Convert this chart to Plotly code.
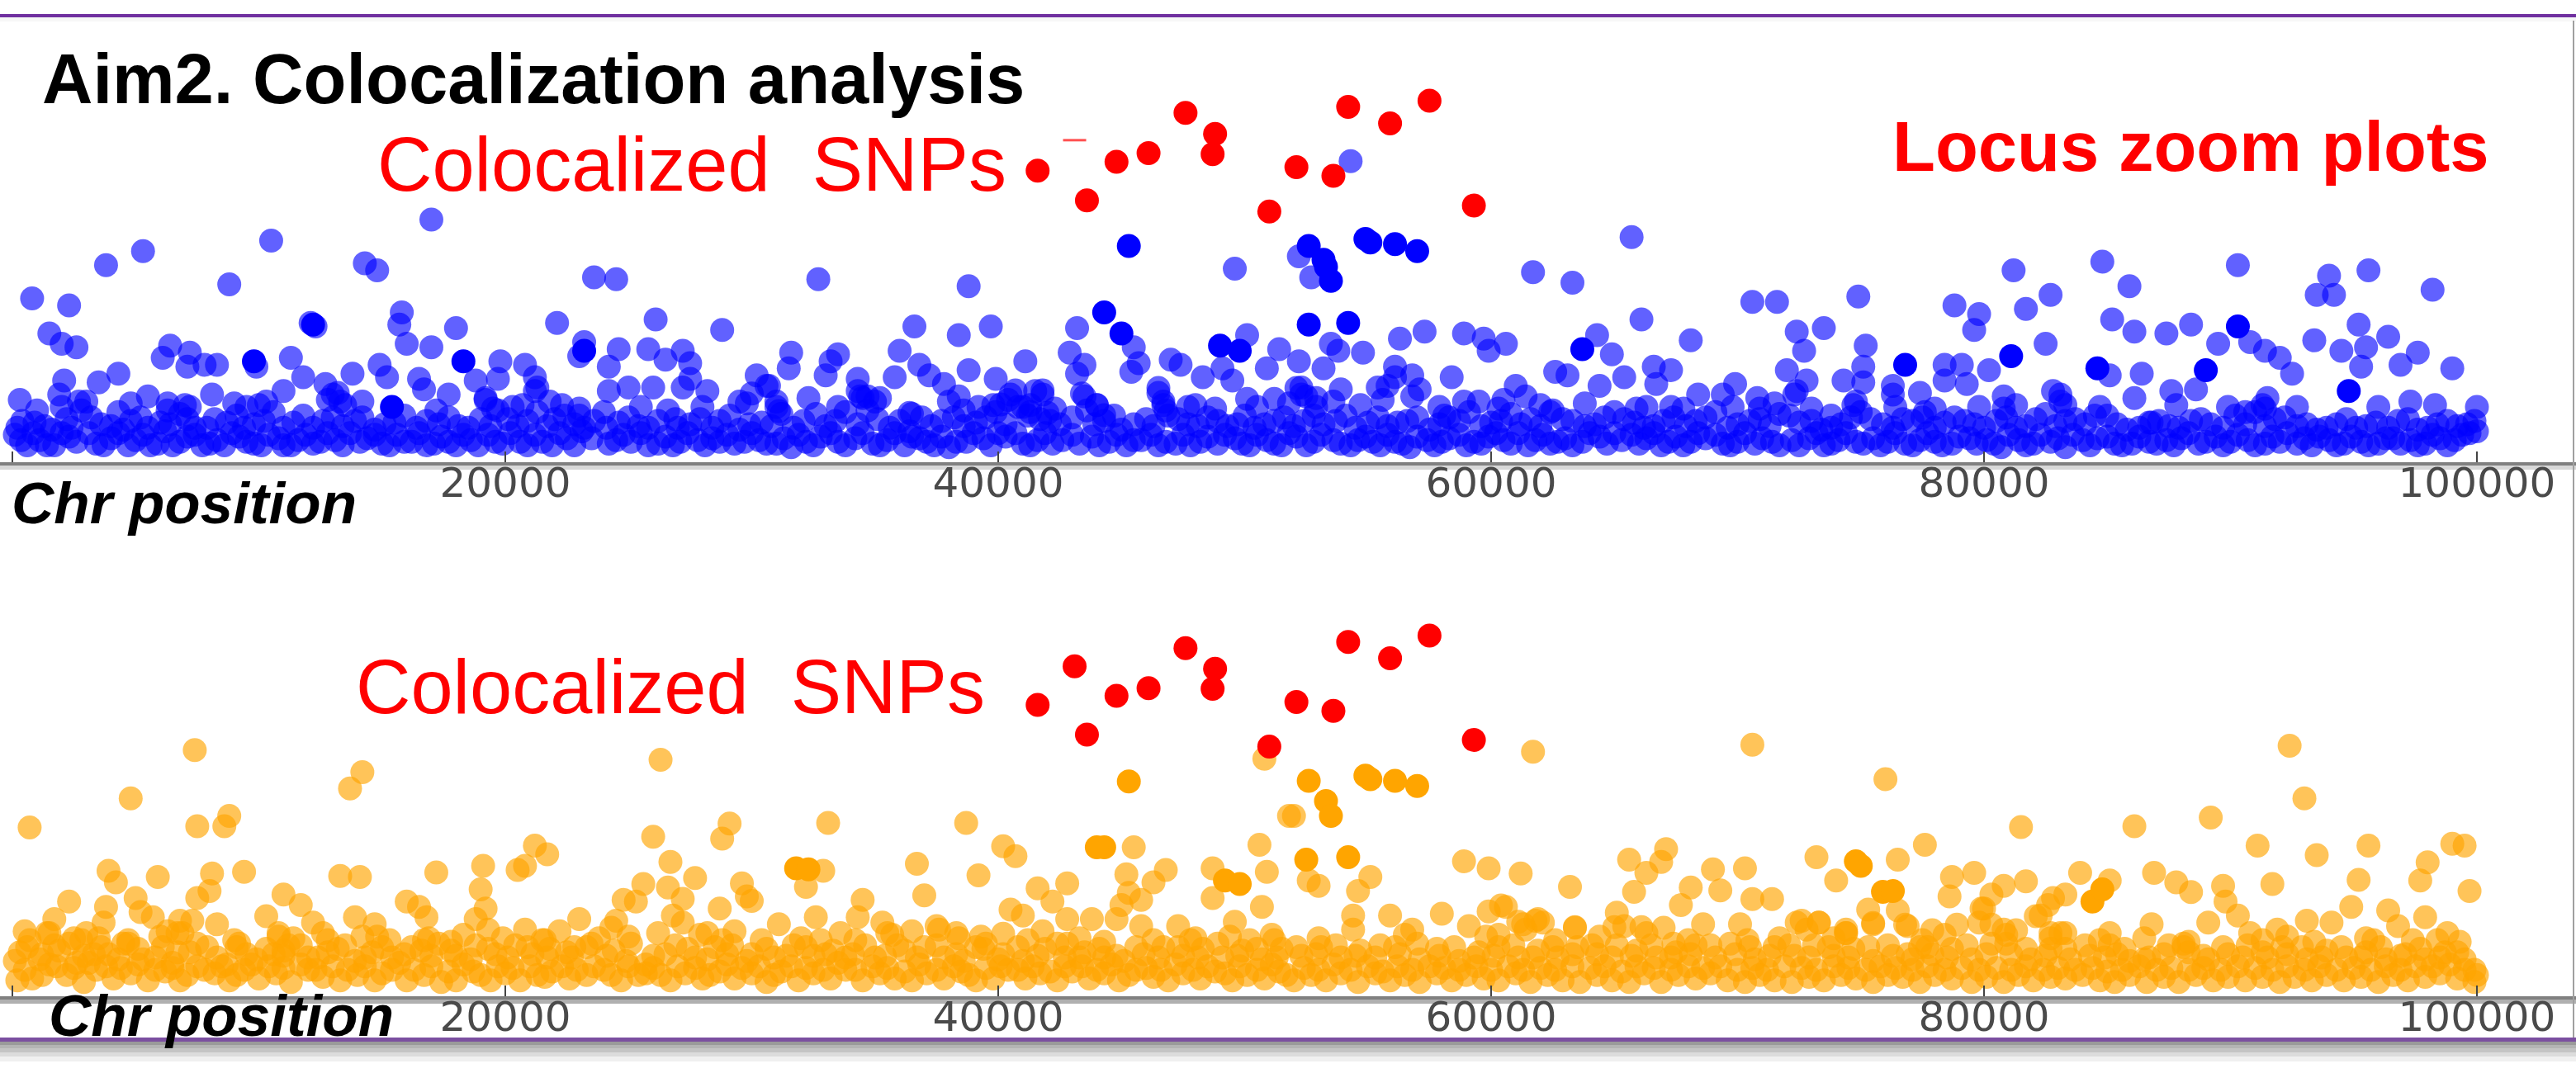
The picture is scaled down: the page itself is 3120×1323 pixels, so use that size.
import plotly.graph_objects as go

W, H = 3120, 1323

tick_vals = [0, 20000, 40000, 60000, 80000, 100000]
tick_text = ["0", "20000", "40000", "60000", "80000", "100000"]

# (chr position, association score)
red_top = [(41600,8.45),(43600,7.6),(44800,8.7),(46100,8.95),(47600,10.1),(48800,9.5),(48700,8.92),(51000,7.28),
           (52100,8.55),(53600,8.3),(54200,10.27),(55900,9.8),(57500,10.45),(59300,7.45)]
red_stub = [(43100,9.32)]
red_bottom = [(41600,8.42),(43100,9.52),(43600,7.57),(44800,8.68),(46100,8.9),(47600,10.04),(48800,9.45),(48700,8.88),
              (51000,7.23),(52100,8.5),(53600,8.25),(54200,10.22),(55900,9.75),(57500,10.4),(59300,7.42)]

blue_dark = [(44300,4.4),(45300,6.3),(45000,3.8),(49000,3.45),(49800,3.3),(52600,6.3),(54900,6.5),(55100,6.4),(56100,6.35),
             (57000,6.15),(53300,5.7),(53200,5.9),(53500,5.3),(52600,4.05),(54200,4.1),(90300,4.0),(94800,2.15),(76800,2.9),
             (18300,3.0),(12200,4.05),(63700,3.35),(9800,3.0),(81100,3.15),(89000,2.75),(84600,2.8),(15400,1.7),(23200,3.3)]

blue_upper = [(300,1.9),(800,4.8),(2300,4.6),(1500,3.8),(2000,3.5),(2600,3.4),(3800,5.75),(5300,6.15),(8800,5.2),(10500,6.45),
    (14300,5.8),(14800,5.6),(17000,7.05),(12100,4.1),(12300,4.0),(15800,4.4),(15700,4.05),(16000,3.5),(17000,3.4),(18000,3.95),
    (6400,3.45),(6100,3.1),(7200,3.25),(7100,2.85),(8300,2.9),(7800,2.9),(9900,2.85),(11300,3.1),(4300,2.65),(3500,2.4),
    (2100,2.45),(1900,2.05),(5500,2.0),(4800,1.8),(8100,2.05),(11000,2.15),(11800,2.55),(13200,2.1),(13800,2.65),(14900,2.9),
    (15200,2.55),(16500,2.5),(16700,2.2),(17700,2.05),(19800,3.0),(20800,2.9),(18800,2.45),(19700,2.5),(21200,2.55),(21300,2.25),
    (22100,4.1),(23200,3.55),(23000,3.15),(24600,3.35),(25800,3.35),(27200,3.3),(26500,3.05),(27500,2.95),(24200,2.85),(23600,5.4),
    (24500,5.35),(26100,4.2),(28800,3.9),(32700,5.35),(38800,5.15),(36600,4.0),(38400,3.75),(39700,4.0),(43200,3.95),(49600,5.65),
    (45500,3.4),(42900,3.25),(31600,3.25),(31500,2.8),(30200,2.6),(30700,2.3),(33500,3.2),(33200,3.0),(33000,2.6),(36000,3.3),
    (36800,2.9),(37200,2.6),(35800,2.55),(38800,2.75),(41100,3.0),(39900,2.5),(43500,2.9),(43200,2.65),(43500,2.0),(45700,2.95),
    (45400,2.7),(47000,3.05),(47400,2.9),(50100,3.75),(51400,3.35),(50900,2.8),(49100,2.8),(49500,2.45),(48300,2.55),(34300,2.5),
    (34500,1.95),(32300,1.95),(27500,2.5),(27200,2.25),(24200,2.15),(25000,2.25),(26000,2.25),(28200,2.15),(25500,1.7),(37800,2.35),
    (36500,1.5),(41500,2.15),(46500,2.1),(54300,8.72),(52200,6.0),(52700,5.4),(61700,5.55),(63300,5.25),(65700,6.55),(66100,4.2),
    (68100,3.6),(70600,4.7),(71600,4.7),(74900,4.85),(72400,3.85),(73500,3.95),(72700,3.3),(75200,3.45),(78800,4.6),(79800,4.35),
    (79600,3.9),(81200,5.6),(81700,4.5),(82700,4.9),(82500,3.5),(84800,5.85),(85900,5.15),(85200,4.2),(86100,3.85),(87400,3.8),
    (88400,4.05),(90300,5.75),(89500,3.5),(90800,3.55),(91400,3.3),(92000,3.1),(92500,2.65),(93400,3.6),(94000,5.45),(93500,4.9),
    (94200,4.9),(95600,5.6),(98200,5.05),(95200,4.05),(96400,3.7),(94500,3.3),(95500,3.4),(95300,2.85),(97600,3.25),(96900,2.9),
    (99000,2.8),(100000,1.7),(98300,1.75),(97300,1.85),(96000,1.7),(92700,1.7),(91500,1.95),(56300,3.65),(57300,3.85),(58900,3.8),
    (59700,3.65),(60600,3.5),(59900,3.3),(53500,3.5),(53800,3.3),(54800,3.25),(52200,3.0),(53200,2.8),(56100,2.85),(56800,2.6),
    (58400,2.55),(55800,2.3),(57100,2.2),(53900,2.2),(52300,2.25),(52900,1.7),(54700,1.75),(64300,3.75),(64900,3.2),(62600,2.7),
    (63100,2.6),(61000,2.3),(61400,2.0),(65400,2.55),(64400,2.3),(66600,2.85),(67300,2.75),(66700,2.35),(69900,2.35),(68400,2.05),
    (69400,2.05),(72000,2.75),(72800,2.45),(72400,2.15),(74300,2.45),(75100,2.85),(75100,2.4),(76300,2.05),(77400,2.1),(78400,2.9),
    (79100,2.9),(78400,2.45),(79300,2.35),(80200,2.75),(80800,2.0),(82800,2.15),(85100,2.6),(86400,2.65),(86100,1.95),(87600,2.15),
    (88600,2.2),(70800,1.95)]

blue_mid = [(2700,1.85),(2000,1.7),(7200,1.7),(6300,1.6),(9500,1.7),(10300,1.85),(12700,2.35),(13000,2.05),(13300,1.85),(14200,1.85),(19200,1.9),
    (19500,1.65),(21200,2.15),(20700,1.75),(22300,1.75),(23000,1.45),(29500,1.85),(31000,1.7),(34300,2.15),(35200,1.95),(39800,1.75),(40500,2.05),
    (41800,2.05),(41300,1.55),(44000,1.75),(46700,1.85),(52300,2.05),(52900,1.95),(55400,2.25),(56800,2.0),(56100,2.55),(58900,1.85),(58100,1.45),
    (60300,1.65),(62400,1.55),(65900,1.65),(67300,1.7),(70900,1.65),(72300,2.05),(73800,1.45),(74800,1.85),(76300,2.3),(77600,1.55),(80800,1.65),
    (83100,2.05),(83300,1.75),(86800,1.25),(90600,1.55),(91400,1.65),(34400,2.0),(34700,2.0),(31100,1.58),(36400,1.53),(38400,2.0),(38600,1.6),
    (40700,2.17),(41800,2.17),(40100,1.77),(41000,1.7),(42000,1.53),(43400,2.08),(44300,1.46),(46500,2.24),(46800,1.6),(47700,1.7),(48800,1.65),
    (50100,1.93),(51200,1.93),(52100,2.24),(52500,2.0),(30600,2.3),(30000,2.08)]

blue_band = [(100,.9),(600,.6),(1100,.75),(1700,.6),(2300,.85),(3400,.65),(4000,.8),(4700,.6),(5300,.9),(5900,.65),(6500,.6),(7100,.85),
    (7700,.6),(8300,.75),(8900,.95),(9500,.7),(10100,.6),(10800,.8),(11300,.6),(11900,.9),(12500,.7),(13100,.75),(13700,.95),(14400,.8),
    (15000,.65),(15600,.9),(16200,.7),(16800,.6),(17400,.85),(18000,.6),(18600,.75),(19300,.9),(19900,.65),(20600,.7),(21200,.9),(21900,.6),
    (22500,.8),(23100,1.0),(24200,.65),(24800,.9),(25800,.6),(26500,.85),(27100,.7),(27800,.75),(28400,.8),(29000,.9),(29700,.7),(30300,.75),
    (31000,.65),(31600,.55),(32200,.7),(32800,.85),(33500,.7),(34200,.8),(34900,.65),(35500,.75),(36200,.6),(36800,.8),(37400,.6),(38000,.55),
    (38700,.7),(39400,.8),(40300,.85),(41000,.65),(41600,.75),(42200,.65),(43000,.9),(43800,.85),(44500,.7),(45200,.6),(45800,.75),(46500,.6),
    (47500,.9),(48200,.7),(48900,.65),(49600,.8),(50200,.6),(50900,.75),(51500,.6),(52100,.85),(52800,.7),(53600,.75),(54300,.6),(54900,.85),
    (55500,.6),(56100,.7),(56700,.55),(57400,.75),(58000,.7),(58700,.9),(59300,.7),(59900,.85),(60500,.75),(61100,.95),(61800,.75),(62400,.65),
    (63000,.8),(63700,.7),(64400,.85),(65000,.95),(65700,.9),(66300,.8),(66900,.6),(67500,.85),(68100,.7),(68700,.8),(69400,.65),(70000,.7),
    (70700,.65),(71400,.7),(72200,.75),(72900,.8),(73500,.6),(74100,.75),(74800,.7),(75500,.8),(76100,.7),(76800,.65),(77400,.75),(78000,.7),
    (78700,.65),(79400,.8),(80100,.75),(80700,.55),(81400,.75),(82000,.65),(82700,.7),(83300,.55),(84000,.75),(84600,.8),(85300,.65),(86000,.65),
    (86700,.7),(87400,.75),(88000,.8),(88700,.65),(89400,.85),(90000,.7),(90700,.75),(91400,.65),(92000,.7),(92700,.65),(93300,.6),(94000,.75),
    (94600,.65),(95300,.7),(96000,.65),(96600,.8),(97300,.75),(97900,.65),(98500,.8),(99100,.75),(99700,.95),(100000,1.0),
    (400,1.3),(1300,1.15),(2200,1.35),(2800,1.6),(3600,1.2),(4500,1.05),(5200,1.4),(6000,1.25),(6800,1.5),(7400,1.1),(8200,1.35),(9100,1.45),
    (9800,1.2),(10600,1.55),(11400,1.25),(12200,1.1),(13000,1.4),(13900,1.3),(14700,1.05),(15500,1.25),(16400,1.1),(17300,1.2),(18100,1.15),
    (19000,1.35),(19700,1.6),(20500,1.15),(21300,1.55),(22000,1.35),(22800,1.2),(23600,1.3),(24600,1.25),(25400,1.15),(26200,1.3),(27000,1.1),
    (27900,1.35),(28700,1.3),(29500,1.05),(30400,1.25),(31200,1.5),(32100,1.3),(33000,1.15),(33800,1.55),(34700,1.6),(35600,1.1),(36400,1.0),
    (37300,1.15),(38200,1.4),(39100,1.25),(39900,1.55),(40800,1.7),(41700,1.35),(42500,1.2),(43600,1.6),(44300,1.3),(45000,1.05),(46000,1.35),
    (46900,1.45),(47700,1.2),(48500,1.4),(49300,1.15),(50000,1.45),(50800,1.2),(51600,1.4),(52400,1.3),(53200,1.2),(54100,1.45),(55000,1.25),
    (55800,1.15),(56600,1.3),(57500,1.05),(58300,1.4),(59100,1.55),(60000,1.25),(60800,1.5),(61600,1.35),(62500,1.6),(63300,1.3),(64200,1.2),
    (65000,1.55),(65800,1.25),(66600,1.15),(67400,1.4),(68300,1.3),(69100,1.55),(70000,1.2),(70900,1.35),(71700,1.5),(72500,1.25),(73400,1.05),
    (74200,1.2),(75000,1.55),(75900,1.2),(76700,1.35),(77500,1.4),(78400,1.25),(79200,1.3),(80000,1.1),(80900,1.4),(81700,1.15),(82500,1.5),
    (83300,1.3),(84100,1.2),(85000,1.45),(85800,1.05),(86700,1.25),(87500,1.15),(88400,1.3),(89200,1.2),(90200,1.45),(91000,1.55),(91800,1.35),
    (92700,1.15),(93500,1.05),(94300,1.2),(95100,1.1),(95900,1.25),(96800,1.3),(97600,1.05),(98400,1.2),(99200,1.15),(99900,1.3),
    (1000,1.6),(3000,1.85),(4300,1.55),(6300,1.8),(7000,1.75),(9000,1.8),(10000,1.75),(12800,1.9),(13500,1.75),(17200,1.6),(19200,1.95),
    (20300,1.7),(21800,1.85),(23000,1.65),(24000,1.55),(26600,1.6),(28000,1.7),(29800,1.8),(31000,1.85),(33500,1.7),(35000,1.85),(38000,1.85),
    (39200,1.7),(40400,1.9),(41300,1.75),(42300,1.65),(44000,1.75),(46700,1.75),(48000,1.75),(50500,1.7),(51800,1.8),(53600,1.85),(55600,1.9),
    (57900,1.7),(59500,1.85),(60500,1.9),(62000,1.75),(63800,1.8),(66300,1.7),(67800,1.65),(69800,1.7),(71500,1.8),(73000,1.65),(74700,1.75),
    (76400,1.7),(78000,1.65),(79800,1.7),(81300,1.75),(83100,1.85),(84700,1.7),(87800,1.75),(89900,1.7),(91300,1.75)]

blue_band_dense = [(350,.75),(850,.95),(1400,.6),(2000,.95),(2600,.7),(3100,.95),(3700,.6),(4300,.95),(5000,.75),(5600,.6),(6200,1.0),(6800,.7),
    (7400,.9),(8000,.65),(8600,.6),(9200,.85),(9800,.65),(10400,.9),(11000,.6),(11600,.75),(12200,.65),(12800,.95),(13400,.6),(14100,.7),(14700,.9),
    (15300,.6),(15900,.7),(16500,.95),(17100,.65),(17700,.7),(18300,.9),(18900,.6),(19600,.7),(20200,.95),(20900,.6),(21500,.7),(22200,.95),(22800,.6),
    (23500,.8),(24500,.75),(25100,.7),(25500,.95),(26200,.65),(26800,.6),(27400,.95),(28100,.6),(28700,.7),(29300,.65),(30000,.95),(30600,.65),(31300,.8),
    (31900,.9),(32500,.6),(33200,.95),(33800,.6),(34500,.95),(35200,.6),(35800,.95),(36500,.85),(37100,.7),(37700,.85),(38300,.7),(39000,.95),(39700,.6),
    (40000,.95),(40700,.95),(41300,.6),(41900,.95),(42600,.75),(43300,.65),(44100,.6),(44800,.9),(45500,.75),(46200,.9),(46800,.7),(47200,.65),(47800,.6),
    (48500,.85),(49200,.9),(49900,.65),(50500,.9),(51200,.65),(51800,.95),(52500,.6),(53100,.9),(53900,.65),(54600,.75),(55200,.7),(55800,.9),(56400,.65),
    (57000,.85),(57700,.6),(58300,.8),(59000,.6),(59600,.65),(60200,.95),(60800,.65),(61500,.6),(62100,.9),(62700,.7),(63300,.6),(64000,.95),(64700,.65),
    (65300,.75),(66000,.65),(66600,.95),(67200,.7),(67800,.6),(68400,.95),(69100,.9),(69700,.6),(70300,.95),(71000,.8),(71700,.6),(72500,.6),(73200,.95),
    (73800,.65),(74400,.95),(75100,.65),(75800,.6),(76400,.95),(77100,.6),(77700,.95),(78300,.6),(79000,.85),(79700,.65),(80400,.65),(81000,.9),(81700,.6),
    (82300,.9),(83000,.8),(83600,.9),(84300,.6),(85000,.85),(85600,.6),(86300,.85),(87000,.65),(87700,.6),(88300,.95),(89000,.7),(89700,.6),(90300,.9),
    (91000,.6),(91700,.85),(92300,.95),(93000,.8),(93600,.85),(94300,.6),(94900,.85),(95600,.6),(96300,.8),(96900,.65),(97600,.6),(98200,.9),(98800,.6),
    (99400,.9),
    (200,1.1),(900,1.25),(1600,1.05),(2400,1.1),(3200,1.4),(4000,1.15),(4800,1.3),(5500,1.1),(6400,1.2),(7100,1.35),(7900,1.1),(8700,1.25),(9400,1.1),
    (10200,1.3),(11000,1.1),(11800,1.45),(12600,1.3),(13400,1.15),(14200,1.4),(15100,1.2),(15900,1.45),(16800,1.3),(17700,1.4),(18500,1.1),(19400,1.15),
    (20100,1.35),(20900,1.3),(21700,1.15),(22400,1.45),(23200,1.1),(24100,1.1),(25000,1.4),(25800,1.1),(26900,1.35),(27500,1.2),(28400,1.1),(29100,1.45),
    (29900,1.2),(30800,1.15),(31700,1.1),(32600,1.5),(33400,1.3),(34300,1.2),(35100,1.35),(36000,1.3),(36900,1.4),(37700,1.3),(38600,1.15),(39500,1.4),
    (40300,1.2),(41200,1.45),(42100,1.3),(43000,1.4),(43900,1.2),(44700,1.45),(45500,1.2),(46300,1.15),(47300,1.35),(48100,1.15),(48900,1.3),(49700,1.2),
    (50400,1.1),(51200,1.3),(52000,1.15),(52800,1.45),(53700,1.3),(54500,1.1),(55400,1.4),(56200,1.25),(57000,1.4),(57900,1.2),(58700,1.3),(59600,1.15),
    (60400,1.3),(61200,1.2),(62000,1.15),(62900,1.35),(63800,1.15),(64600,1.4),(65400,1.35),(66200,1.1),(67000,1.3),(67900,1.15),(68700,1.4),(69600,1.1),
    (70500,1.3),(71300,1.15),(72100,1.45),(73000,1.3),(73800,1.1),(74600,1.4),(75400,1.35),(76300,1.1),(77100,1.3),(78000,1.1),(78800,1.4),(79600,1.2),
    (80500,1.3),(81300,1.1),(82100,1.35),(82900,1.15),(83700,1.35),(84500,1.45),(85400,1.2),(86300,1.1),(87100,1.3),(87900,1.1),(88800,1.35),(89700,1.1),
    (90600,1.2),(91400,1.15),(92200,1.4),(93100,1.2),(93900,1.1),(94700,1.35),(95500,1.15),(96400,1.1),(97200,1.35),(98000,1.1),(98800,1.3),(99600,1.2)]

orange_dark = [(44300,4.35),(44000,4.35),(45300,6.23),(49200,3.4),(49800,3.3),(31800,3.75),(32300,3.72),(52600,6.25),(54900,6.4),(55100,6.3),
               (56100,6.25),(57000,6.1),(53300,5.67),(53500,5.25),(52500,4.0),(54200,4.07),(74800,3.95),(75000,3.82),(75900,3.08),(76300,3.1),
               (84400,2.8),(84800,3.15)]

orange_upper = [(700,4.92),(4800,5.75),(7400,7.13),(7500,4.95),(8800,5.25),(8600,4.95),(13700,6.03),(14200,6.5),(26300,6.85),(26000,4.65),
    (29100,5.03),(28800,4.6),(33100,5.05),(38700,5.05),(21200,4.4),(21700,4.15),(26700,3.93),(40200,4.38),(40700,4.1),(45500,4.35),
    (50800,6.88),(50600,4.42),(51800,5.25),(3900,3.68),(4200,3.35),(5900,3.5),(8100,3.6),(9400,3.65),(2300,2.8),(3800,2.65),(5000,2.9),
    (7500,2.9),(8000,3.1),(5200,2.5),(5700,2.35),(13300,3.53),(14100,3.5),(17200,3.63),(19100,3.82),(20500,3.7),(20800,3.82),(19000,3.15),
    (11000,3.0),(11700,2.7),(10300,2.38),(12200,2.2),(13900,2.35),(16000,2.8),(16500,2.65),(16800,2.35),(19200,2.6),(18800,2.3),(23000,2.3),
    (24500,2.25),(24800,2.85),(25300,2.8),(25600,3.3),(26600,3.2),(27700,3.47),(27200,2.88),(28700,2.6),(29600,3.32),(29800,2.95),(30000,2.82),
    (26800,2.4),(31100,2.15),(32600,2.35),(32900,3.68),(32200,3.22),(36700,3.88),(39200,3.55),(37000,2.98),(34500,2.85),(34300,2.35),(41600,3.18),
    (42800,3.32),(42200,2.8),(40500,2.57),(41000,2.4),(42800,2.3),(43800,2.3),(44800,2.3),(45200,3.58),(46300,3.35),(46800,3.7),(45300,3.05),
    (45800,2.85),(45000,2.7),(48700,3.75),(50900,3.65),(48700,2.9),(49600,2.22),(50700,2.65),(47300,2.1),(45800,2.1),(41800,1.95),(40200,1.88),
    (37600,2.0),(35300,2.2),(29300,1.95),(22200,1.95),(20800,2.0),(14700,2.15),(8300,2.15),(6800,2.25),(1700,2.3),(500,1.95),(3700,2.2),(3000,1.9),
    (6300,1.95),(10800,1.9),(61700,7.08),(70600,7.28),(92400,7.25),(76000,6.3),(93000,5.75),(81500,4.93),(86100,4.95),(89200,5.2),(77600,4.42),
    (91100,4.4),(93500,4.13),(95600,4.4),(99000,4.45),(99500,4.4),(98000,3.92),(95200,3.42),(97700,3.4),(99700,3.1),(91700,3.3),(89700,3.25),
    (86900,3.62),(87800,3.35),(88400,3.07),(83900,3.62),(85100,3.4),(83300,3.0),(82600,2.7),(82300,2.4),(79600,3.62),(78700,3.5),(78600,2.95),
    (81700,3.38),(80800,3.25),(80300,3.0),(79900,2.6),(67100,4.3),(66900,3.93),(66300,3.62),(65600,4.0),(65800,3.08),(68100,3.2),(69300,3.12),
    (69000,3.72),(70300,3.75),(70600,2.87),(71400,2.87),(67700,2.7),(73200,4.07),(74000,3.4),(76500,4.0),(75300,2.57),(76500,2.55),(75500,2.15),
    (76900,2.1),(58900,3.95),(59900,3.75),(61200,3.6),(63200,3.22),(52000,5.25),(55100,3.5),(54600,3.1),(52600,3.4),(53000,3.25),(60600,2.65),
    (59900,2.52),(58000,2.45),(55900,2.4),(54400,2.4),(59100,2.1),(65100,2.48),(61800,2.25),(61300,2.15),(63400,2.05),(68600,2.15),(70100,2.15),
    (72600,2.25),(73300,2.2),(67000,2.05),(86800,2.15),(89100,2.2),(85100,1.9),(91900,2.0),(93100,2.25),(94900,2.65),(94100,2.2),(96400,2.55),
    (97900,2.35),(89800,2.8),(90300,2.4),(90800,1.9),(96800,2.1),(99300,1.65),(98800,1.9),(83300,1.9),(79800,2.2),(78400,1.85),(74400,1.9),
    (99900,.85),(99900,.5)]

orange_mid = [(60400,2.69),(61100,2.22),(61900,2.3),(63400,2.07),(65000,2.07),(66100,2.07),(72400,2.2),(73300,2.2),(74400,1.9),(75500,2.19),(76800,2.14),
    (77900,1.98),(78900,2.14),(80000,2.6),(80300,2.14),(81300,1.98),(82100,2.38),(82800,2.9),(82700,1.9),(1500,1.9),(2800,1.7),(4700,1.6),(6700,1.9),
    (7300,2.25),(9200,1.6),(10800,1.8),(11000,1.4),(12800,1.7),(14800,1.8),(16700,1.7),(17800,1.65),(19300,2.0),(21500,1.7),(22800,1.5),(24300,2.05),
    (27200,2.2),(28200,1.9),(28800,1.7),(32800,1.7),(34200,1.7),(35500,1.9),(37500,2.1),(38300,1.9),(39500,1.6),(42800,1.6),(47800,1.7),(50200,1.7),
    (51200,1.7),(54400,2.0),(56800,2.0),(59800,1.8),(61400,2.0),(62100,2.2),(65400,2.1),(67400,1.6),(70400,1.7),(72800,2.0),(74400,2.0),(77400,1.5),
    (80800,2.0),(83100,1.9),(85400,1.3),(88100,1.6),(92300,1.8),(95800,1.7),(98400,1.7)]

orange_band = [(200,.55),(800,.6),(1500,1.0),(2200,.7),(2900,.5),(3400,.85),(4100,.6),(4800,.75),(5500,.55),(6200,.8),(6800,.55),(7500,.95),(8200,.75),
    (8800,.55),(9400,.85),(10000,.6),(10700,.75),(11300,.5),(12000,.85),(12600,.65),(13300,.55),(14000,.7),(14700,.55),(15400,.85),(16000,.55),
    (16700,.7),(17400,.5),(18000,.55),(18700,.8),(19400,.55),(20000,.75),(20600,.55),(21300,.7),(21900,.8),(22600,.6),(23300,.7),(24000,.85),
    (24700,.55),(25400,.7),(26000,.9),(26700,.55),(27300,.75),(28000,.6),(28700,.8),(29300,.6),(30000,.75),(30600,.5),(31200,.8),(31900,.55),
    (32500,.75),(33200,.6),(33800,.85),(34500,.55),(35200,.75),(35800,.6),(36500,.55),(37100,.75),(37800,.6),(38500,.8),(39100,.55),(39800,.6),
    (40400,.85),(41100,.6),(41700,.75),(42400,.55),(43000,.8),(43700,.6),(44300,.75),(44900,.55),(45600,.85),(46300,.65),(46900,.55),(47500,.75),
    (48200,.6),(48800,.8),(49500,.55),(50100,.7),(50800,.6),(51400,.8),(52000,.55),(52700,.7),(53300,.55),(53900,.75),(54600,.5),(55300,.75),(55900,.55),
    (56500,.7),(57100,.5),(57800,.75),(58400,.55),(59000,.7),(59700,.6),(60300,.55),(61000,.75),(61600,.5),(62300,.7),(62900,.55),(63600,.5),(64300,.7),
    (64900,.55),(65600,.5),(66200,.75),(66900,.5),(67600,.7),(68300,.6),(68900,.75),(69600,.55),(70300,.5),(70900,.7),(71500,.55),(72200,.5),(72900,.65),
    (73500,.55),(74200,.7),(74800,.6),(75500,.5),(76100,.7),(76700,.65),(77400,.5),(78000,.7),(78700,.6),(79500,.5),(80100,.65),(80800,.5),(81400,.7),
    (82000,.55),(82700,.65),(83300,.6),(84000,.7),(84700,.55),(85300,.5),(85900,.7),(86600,.5),(87300,.65),(87900,.5),(88600,.7),(89300,.55),(89900,.65),
    (90600,.55),(91300,.65),(92000,.5),(92600,.65),(93300,.55),(93900,.7),(94600,.55),(95300,.65),(96000,.5),(96600,.7),(97200,.55),(97900,.65),(98500,.75),
    (99200,.6),(100000,.7),
    (300,1.35),(1100,1.15),(1900,1.4),(2600,1.05),(3300,1.3),(4300,1.15),(5100,1.45),(5800,1.2),(6500,1.05),(7200,1.35),(7900,1.5),(8700,1.0),(9500,1.3),
    (10300,1.45),(11000,1.25),(11700,1.55),(12400,1.2),(13200,1.45),(13900,1.1),(14600,1.35),(15400,1.2),(16200,1.5),(17000,1.25),(17800,1.4),(18600,1.15),
    (19300,1.45),(20100,1.2),(20900,1.5),(21700,1.2),(22500,1.35),(23300,1.5),(24100,1.25),(24900,1.1),(25700,1.0),(26500,1.3),(27400,1.45),(28200,1.15),
    (29000,1.3),(29800,1.1),(30600,1.45),(31400,1.25),(32200,1.5),(33000,1.3),(33800,1.2),(34600,1.55),(35400,1.25),(36200,1.4),(37000,1.5),(37800,1.2),
    (38600,1.1),(39400,1.45),(40200,1.3),(41000,1.1),(41900,1.45),(42700,1.2),(43500,1.35),(44300,1.2),(45100,1.1),(45900,1.3),(46700,1.5),(47500,1.25),
    (48300,1.45),(49100,1.2),(49900,1.4),(50700,1.15),(51500,1.45),(52300,1.25),(53100,1.5),(53900,1.2),(54700,1.4),(55500,1.55),(56300,1.3),(57100,1.15),
    (57900,1.25),(58700,1.1),(59500,1.35),(60300,1.5),(61100,1.2),(61900,1.4),(62700,1.2),(63500,1.5),(64300,1.3),(65100,1.55),(65900,1.4),(66700,1.2),
    (67500,1.35),(68300,1.55),(69100,1.2),(69900,1.3),(70700,1.15),(71500,1.5),(72300,1.25),(73100,1.55),(73900,1.25),(74700,1.45),(75500,1.1),(76300,1.25),
    (77100,1.15),(77900,1.3),(78700,1.45),(79500,1.15),(80300,1.6),(81100,1.3),(81900,1.15),(82700,1.45),(83500,1.15),(84300,1.25),(85100,1.55),(85900,1.1),
    (86700,1.2),(87500,1.55),(88300,1.35),(89100,1.15),(89900,1.3),(90700,1.55),(91500,1.2),(92300,1.3),(93100,1.15),(93900,1.4),(94700,1.2),(95500,1.35),
    (96300,1.15),(97100,1.3),(97900,1.15),(98700,1.35),(99500,1.15),
    (700,1.7),(1400,1.9),(2500,1.75),(3500,1.75),(4700,1.7),(6000,1.8),(6900,1.9),(9000,1.7),(11400,1.75),(12600,1.9),(14200,1.8),(15300,1.7),(16900,1.75),
    (18300,1.85),(19900,1.75),(21600,1.7),(23800,1.75),(25000,1.8),(26200,1.9),(27900,1.85),(30400,1.7),(32000,1.75),(33600,1.9),(35700,1.85),(36500,1.95),
    (38400,1.75),(39300,1.8),(41200,1.7),(43300,1.75),(44300,1.65),(46300,1.7),(48000,1.75),(49400,1.8),(51100,1.85),(53000,1.75),(56500,1.85),(60300,1.85),
    (62600,1.7),(64400,1.8),(66300,1.9),(68000,1.7),(71700,1.75),(73900,1.75),(77500,1.7),(80900,1.85),(82700,1.75),(84700,1.7),(86500,1.75),(88300,1.65),
    (91300,1.7),(93400,1.65),(95500,1.75),(97400,1.7)]

orange_band_dense = [(500,.85),(1200,.7),(1800,.95),(2500,.9),(3100,1.05),(3800,.95),(4400,.9),(5100,1.0),(5800,.85),(6500,.9),(7100,.7),(7800,.85),(8500,.95),
    (9100,.7),(9700,1.0),(10400,.95),(11000,.9),(11700,1.0),(12300,.85),(13000,.95),(13600,.85),(14300,.95),(15000,.75),(15700,1.05),(16300,.85),(17000,.95),
    (17700,.8),(18300,1.0),(19000,.7),(19700,.95),(20300,.9),(21000,.95),(21600,.65),(22300,.95),(22900,.85),(23600,.95),(24300,.7),(25000,.95),(25700,.75),
    (26300,.7),(27000,.95),(27700,.9),(28300,.7),(29000,1.0),(29600,.9),(30300,.95),(30900,.7),(31600,.95),(32200,.9),(32900,.85),(33500,1.05),(34200,.85),
    (34900,.95),(35500,.9),(36200,.8),(36800,1.0),(37500,.85),(38200,.95),(38800,.7),(39500,.9),(40100,.95),(40800,.85),(41400,.95),(42100,.8),(42700,.95),
    (43400,.95),(44000,.85),(44600,1.0),(45300,.7),(46000,.9),(46600,.85),(47200,1.0),(47900,.85),(48500,.95),(49200,.75),(49800,.95),(50500,.85),(51100,1.0),
    (51700,.7),(52400,.9),(53000,.85),(53600,1.0),(54300,.85),(55000,.95),(55600,.8),(56200,.95),(56800,.85),(57500,.95),(58100,.9),(58700,.85),(59400,.95),
    (60000,.85),(60700,.95),(61300,.85),(62000,.9),(62600,.85),(63300,.95),(64000,.9),(64600,.95),(65300,.8),(65900,.95),(66600,.9),(67300,.85),(68000,.95),
    (68600,.9),(69300,.95),(70000,.85),(70600,.9),(71200,.85),(71900,.95),(72600,.9),(73200,.85),(73900,.95),(74500,.9),(75200,.85),(75800,.95),(76400,.9),
    (77100,.85),(77700,.95),(78400,.85),(79100,.9),(79800,.85),(80500,.9),(81100,.85),(81700,.95),(82400,.85),(83000,.9),(83700,.85),(84400,.9),(85000,.8),
    (85600,.85),(86300,.95),(87000,.85),(87600,.9),(88300,.85),(88900,.9),(89600,.85),(90300,.95),(91000,.9),(91700,.85),(92300,.95),(93000,.85),(93600,.95),
    (94300,.85),(95000,.9),(95700,.85),(96300,.95),(96900,.85),(97500,.95),(98200,.95),(98900,1.0),(99500,.85),
    (100,1.1),(600,1.5),(1200,1.3),(1700,1.55),(2300,1.6),(2900,1.25),(3600,1.5),(3900,1.3),(4500,1.6),(5300,1.15),(6100,1.5),(6700,1.35),(7500,1.6),(8300,1.2),
    (9100,1.5),(9900,1.15),(10600,1.3),(11200,1.55),(12000,1.2),(12800,1.35),(13500,1.55),(14300,1.2),(15000,1.5),(15900,1.3),(16600,1.4),(17300,1.6),(18000,1.25),
    (18800,1.55),(19600,1.3),(20400,1.55),(21100,1.3),(21800,1.45),(22700,1.2),(23500,1.6),(24400,1.4),(25100,1.6),(26000,1.25),(26900,1.55),(27700,1.2),(28500,1.5),
    (29200,1.55),(30000,1.3),(30900,1.2),(31700,1.55),(32500,1.25),(33300,1.4),(34100,1.3),(35000,1.2),(35900,1.55),(36700,1.2),(37500,1.55),(38300,1.3),(39100,1.5),
    (40000,1.15),(40800,1.5),(41600,1.25),(42400,1.6),(43300,1.2),(44100,1.45),(44800,1.25),(45600,1.5),(46500,1.2),(47300,1.5),(48100,1.2),(48900,1.6),(49700,1.25),
    (50500,1.45),(51300,1.2),(52100,1.5),(52900,1.3),(53700,1.55),(54500,1.25),(55300,1.2),(56100,1.5),(57000,1.6),(57800,1.45),(58500,1.5),(59300,1.2),(60100,1.25),
    (60900,1.55),(61700,1.2),(62500,1.5),(63300,1.3),(64100,1.55),(64900,1.2),(65700,1.25),(66500,1.55),(67300,1.2),(68100,1.3),(68900,1.55),(69700,1.6),(70500,1.5),
    (71300,1.25),(72100,1.55),(72900,1.2),(73700,1.5),(74500,1.2),(75300,1.5),(76100,1.55),(76900,1.3),(77700,1.5),(78500,1.2),(79300,1.55),(80100,1.3),(80900,1.6),
    (81700,1.45),(82500,1.25),(83300,1.45),(84100,1.55),(84900,1.2),(85700,1.45),(86500,1.15),(87300,1.3),(88100,1.5),(88900,1.25),(89700,1.5),(90500,1.2),(91300,1.35),
    (92100,1.5),(92900,1.5),(93700,1.2),(94500,1.5),(95300,1.2),(96100,1.5),(96900,1.25),(97700,1.45),(98500,1.2),(99200,1.35)]

px_scale_top = 42.4

def paper_x(p):
    return p / W

def paper_y(p):
    return 1 - p / H

fig = go.Figure()

def add_points(points, color, xa, ya, size=29):
    xs, ys = zip(*points)
    fig.add_trace(go.Scatter(x=list(xs), y=list(ys), mode="markers", xaxis=xa, yaxis=ya, showlegend=False, hoverinfo="skip",
                             marker=dict(size=size, color=color, line=dict(width=0))))

BLUE = "rgba(0,0,255,0.62)"
ORANGE = "rgba(255,165,0,0.65)"
add_points(blue_band, BLUE, "x", "y")
add_points(blue_band_dense, BLUE, "x", "y")
add_points(blue_mid, BLUE, "x", "y")
add_points(blue_upper, BLUE, "x", "y")
add_points(blue_dark, "#0000ff", "x", "y")
add_points(red_top, "#ff0000", "x", "y")
xs_stub, ys_stub = zip(*red_stub)
fig.add_trace(go.Scatter(x=list(xs_stub), y=list(ys_stub), mode="markers", xaxis="x", yaxis="y", showlegend=False, hoverinfo="skip",
                         marker=dict(symbol="line-ew", size=20, line=dict(color="#ff5050", width=3))))
add_points(orange_band, ORANGE, "x2", "y2")
add_points(orange_band_dense, ORANGE, "x2", "y2")
add_points(orange_mid, ORANGE, "x2", "y2")
add_points(orange_upper, ORANGE, "x2", "y2")
add_points(orange_dark, "#ffa500", "x2", "y2")
add_points(red_bottom, "#ff0000", "x2", "y2")

x_rng = [-503, 104020]
xaxis_style = dict(range=x_rng, domain=[0, 1], tickvals=tick_vals, ticktext=tick_text, ticks="inside", ticklen=13, tickwidth=2,
                   tickcolor="#444444", showline=True, linecolor="#808080", linewidth=4, showgrid=False, zeroline=False,
                   ticklabelstandoff=-22, tickfont=dict(family="DejaVu Sans", size=50, color="#4a4a4a"))
yaxis_style = dict(showgrid=False, zeroline=False, showticklabels=False, ticks="", showline=False)

fig.update_layout(
    width=W, height=H, autosize=False, margin=dict(l=0, r=0, t=0, b=0), paper_bgcolor="white", plot_bgcolor="rgba(0,0,0,0)",
    showlegend=False,
    xaxis=dict(**xaxis_style, anchor="y"),
    yaxis=dict(**yaxis_style, domain=[paper_y(560), paper_y(25)], range=[5 / px_scale_top, (565 - 25) / px_scale_top]),
    xaxis2=dict(**xaxis_style, anchor="y2"),
    yaxis2=dict(**yaxis_style, domain=[paper_y(1207), paper_y(640)], range=[4 / px_scale_top, (1211 - 640) / px_scale_top]),
)

def band(y0, y1, color, layer="below"):
    fig.add_shape(type="rect", xref="paper", yref="paper", x0=0, x1=1, y0=paper_y(y1), y1=paper_y(y0),
                  fillcolor=color, line=dict(width=0), layer=layer)

band(17, 21, "#7030a0")
band(21, 26, "#f7f7f7")
band(564, 569, "#d8d8d8")
band(1211, 1216, "#b0b0b0")
band(1257, 1262, "#7b4fa0")
band(1262, 1266, "#9a9a9a")
band(1266, 1270, "#b4b4b4")
band(1270, 1275, "#c4c4c4")
band(1275, 1280, "#dcdcdc")
band(1280, 1286, "#f0f0f0")
fig.add_shape(type="line", xref="paper", yref="paper", x0=paper_x(3117), x1=paper_x(3117), y0=paper_y(1257), y1=paper_y(25),
              line=dict(color="#a0a0a0", width=2))

def label(text, left, base, size, color, bold=False, italic=False):
    t = f"<b>{text}</b>" if bold else text
    t = f"<i>{t}</i>" if italic else t
    fig.add_annotation(text=t, xref="paper", yref="paper", x=paper_x(left), y=paper_y(base), xanchor="left", yanchor="bottom",
                       showarrow=False, borderpad=0, yshift=-size * 0.21,
                       font=dict(family="Liberation Sans", size=size, color=color))

label("Aim2. Colocalization analysis", 50, 126, 85, "black", bold=True)
label("Colocalized\u00a0\u00a0SNPs", 456, 232, 92, "#ff0000")
label("Colocalized\u00a0\u00a0SNPs", 430, 865, 92, "#ff0000")
label("Locus zoom plots", 2291, 208, 85, "#ff0000", bold=True)
label("Chr position", 13, 635, 71, "black", bold=True, italic=True)
label("Chr position", 58, 1256, 71, "black", bold=True, italic=True)

fig.write_html("out.html", config={"displayModeBar": False}, post_script="document.body.style.margin='0';")
